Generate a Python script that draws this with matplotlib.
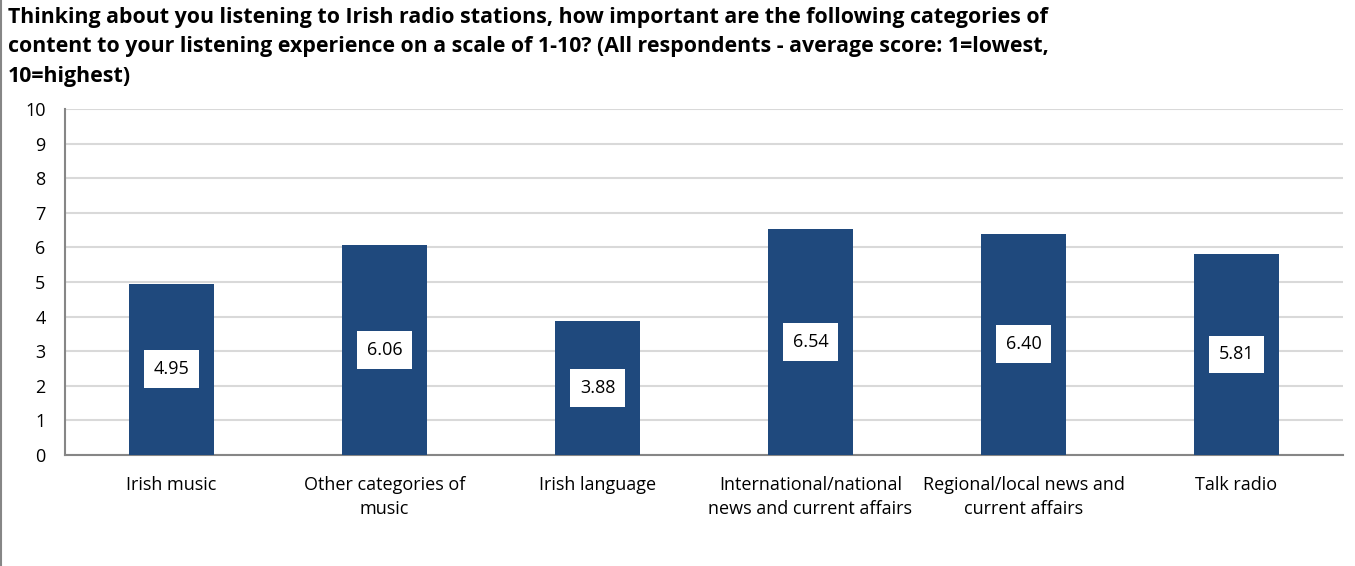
import matplotlib.pyplot as plt
import numpy as np

categories = ["Irish music", "Other categories of\nmusic", "Irish language",
              "International/national\nnews and current affairs",
              "Regional/local news and\ncurrent affairs", "Talk radio"]
scores = [4.95, 6.06, 3.88, 6.54, 6.40, 5.81]

title = ("Thinking about you listening to Irish radio stations, how important are the following categories of\n"
         "content to your listening experience on a scale of 1-10? (All respondents - average score: 1=lowest,\n"
         "10=highest)")

plt.rcParams['font.family'] = ['Open Sans', 'DejaVu Sans']

fig = plt.figure(figsize=(13.55, 5.66), dpi=100)
ax = fig.add_axes([65 / 1355, 1 - 455 / 566, (1343 - 65) / 1355, (455 - 109) / 566])

x = np.arange(len(categories))
ax.bar(x, scores, width=0.4, color="#1F497D", zorder=3)
for xi, v in zip(x, scores):
    ax.text(xi, v / 2, f"{v:.2f}", ha="center", va="center", fontsize=13, zorder=4,
            bbox=dict(boxstyle="square,pad=0.55", fc="white", ec="none"))

ax.set_xlim(-0.5, len(categories) - 0.5)
ax.set_ylim(0, 10)
ax.set_yticks(range(0, 11))
ax.set_xticks(x)
ax.set_xticklabels(categories, fontsize=13, linespacing=1.45)
ax.tick_params(axis="y", labelsize=13, length=0, pad=14)
ax.tick_params(axis="x", length=0, pad=15)
ax.grid(axis="y", color="#D9D9D9", linewidth=1.5, zorder=0)
for s in ["top", "right"]:
    ax.spines[s].set_visible(False)
for s in ["left", "bottom"]:
    ax.spines[s].set_color("#868686")
    ax.spines[s].set_linewidth(1.5)

fig.text(8 / 1355, 1 - 7 / 566, title, ha="left", va="top", fontsize=15.4,
         fontweight="bold", linespacing=1.52)
fig.add_artist(plt.Line2D([1 / 1355, 1 / 1355], [0, 1], color="#868686", linewidth=1.5))

fig.savefig("out.png", dpi=100)
